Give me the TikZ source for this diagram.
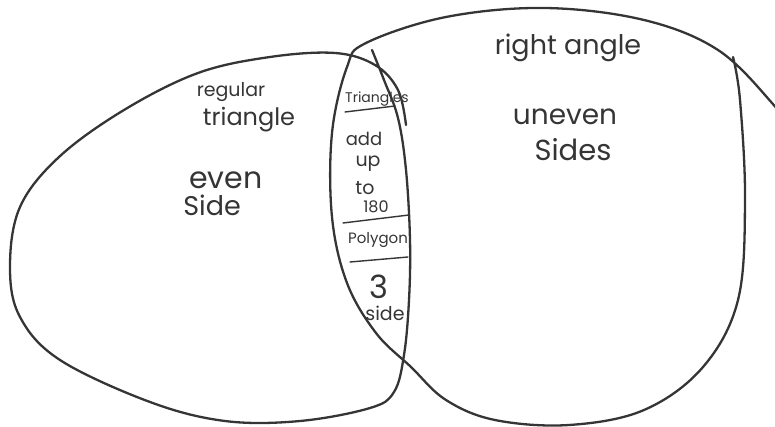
\documentclass[tikz,border=0pt]{standalone}
\usepackage{fontspec}
\setmainfont{Poppins}
\definecolor{ink}{HTML}{353535}
\tikzset{
  outline/.style={draw=ink, line width=2.3pt, line cap=round, line join=round},
  divider/.style={draw=ink, line width=1.4pt, line cap=round},
  hand/.style={text=ink, inner sep=0pt, font=\fontsize{#1}{#1}\selectfont}
}
\begin{document}
\begin{tikzpicture}[x=1pt, y=-1pt]
  \useasboundingbox (0,0) rectangle (775,427);
  \draw[outline] plot[smooth, tension=0.6] coordinates {
    (372,50) (384,80) (398,118) (406,170) (410,240) (409,300) (404,355)
    (394,392) (370,408) (300,421) (225,421) (150,402) (60,360) (20,317)
    (10,267) (20,207) (59,157) (124,110) (198,73) (270,57) (335,53)
    (375,65) (398,90) (406,125)};
  \draw[outline] plot[smooth, tension=0.6] coordinates {
    (733,57) (740,100) (745,200) (738,300) (703,367) (644,410) (569,425)
    (495,420) (446,400) (411,367) (376,333) (347,283) (332,217) (332,133)
    (347,67) (366,43) (446,17) (545,8) (644,20) (718,50) (772,103) (790,130)};
  \draw[divider] (345,112) -- (395,106);
  \draw[divider] (343,223) -- (409,215);
  \draw[divider] (350,262) -- (408,257);
  \node[hand=19] (regular) at (231,92) {regular};
  \node[hand=24] (triangle) at (249,120) {triangle};
  \node[hand=30] (even) at (226,180) {even};
  \node[hand=27] (side) at (212,205) {Side};
  \node[hand=27] (right) at (568,48) {right angle};
  \node[hand=28] (uneven) at (565,117) {uneven};
  \node[hand=29] (sides) at (573,150) {Sides};
  \node[hand=14] (tri) at (377,99) {Triangles};
  \node[hand=18] (add) at (364,139) {add};
  \node[hand=19] (up) at (368,164) {up};
  \node[hand=19] (to) at (365,188) {to};
  \node[hand=16] (num) at (376,207) {180};
  \node[hand=15] (poly) at (378,240) {Polygon};
  \node[hand=32] (three) at (379,287) {3};
  \node[hand=19] (side3) at (385,313) {side};
\end{tikzpicture}
\end{document}
